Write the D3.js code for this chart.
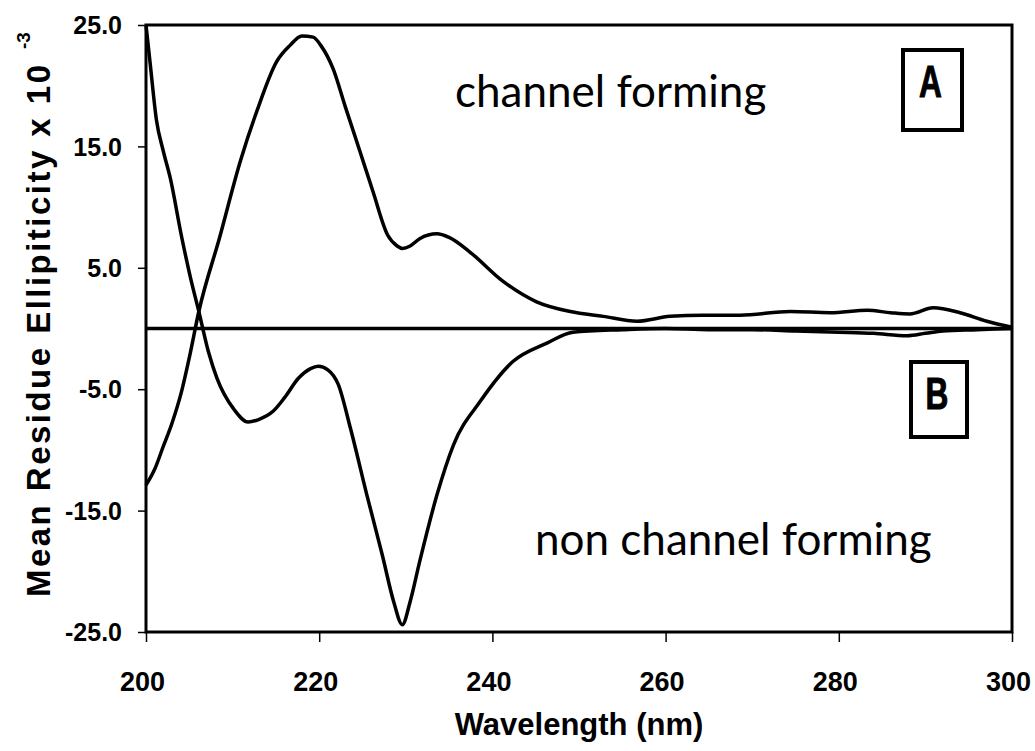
<!DOCTYPE html>
<html>
<head>
<meta charset="utf-8">
<script src="https://cdn.jsdelivr.net/npm/d3@7"></script>
<style>
  body { margin: 0; background: #fff; }
  svg { display: block; }
  .tick-label { font-family: "Liberation Sans", Arial, sans-serif; font-weight: bold; fill: #000; }
  .axis-title { font-family: "Liberation Sans", Arial, sans-serif; font-weight: bold; fill: #000; }
  .note { font-family: Lato, "Open Sans", sans-serif; fill: #000; }
</style>
</head>
<body>
<svg id="chart" width="1035" height="751"></svg>
<script>
// CD spectra
const xTicks = [200, 220, 240, 260, 280, 300];
const yTicks = [25, 15, 5, -5, -15, -25];

// A: channel forming
const wlA = [200, 201, 202, 203, 204.1, 205, 206.1, 208.5, 210.9, 212.8, 215.1, 216.6, 218, 219.3, 220.2,
  221.6, 223, 224.7, 226.2, 227.9, 229, 229.6, 230.5, 231.6, 233.6, 235, 237.4, 241.2, 245.1, 249,
  252.8, 256.7, 260.5, 264.3, 268.6, 274.4, 279, 283.3, 286, 288.2, 290.9, 294, 297.1, 300];
const valA = [-12.9, -11.6, -9.7, -7.8, -5.2, -2.4, 1.4, 7.5, 13.8, 17.9, 22.0, 23.3, 24.1, 24.0, 23.3,
  21.4, 18.3, 14.6, 11.3, 7.7, 6.8, 6.6, 6.8, 7.4, 7.8, 7.5, 6.3, 3.9, 2.2, 1.4,
  1.0, 0.6, 1.0, 1.1, 1.1, 1.4, 1.3, 1.5, 1.3, 1.2, 1.7, 1.3, 0.6, 0.1];

// B: non channel forming
const wlB = [200, 200.5, 201.2, 202, 202.8, 204.1, 205.1, 206.1, 207.2, 208.2, 210.1, 211.8, 213, 214.7,
  216, 217.6, 219, 219.9, 221, 222.2, 223.6, 225.5, 227.3, 228.6, 229.6, 230.5, 231.6, 233.6, 235.5,
  238.6, 242.4, 246.3, 249.3, 255, 260, 265, 270, 275, 280, 284, 287.9, 290, 292, 296, 300];
const valB = [25, 21.7, 17.2, 14.6, 12.4, 7.6, 4.3, 1.4, -1.9, -4.1, -6.6, -7.7, -7.5, -6.8,
  -5.7, -4.1, -3.3, -3.1, -3.4, -4.6, -8.2, -13.7, -18.7, -22.5, -24.4, -22.5, -19.2, -13.7, -9.6,
  -6.0, -2.7, -1.2, -0.3, -0.1, 0.0, -0.1, -0.1, -0.2, -0.3, -0.4, -0.6, -0.4, -0.2, -0.1, 0];

const margin = { left: 146, right: 1012, top: 25, bottom: 632 };

const svg = d3.select("#chart");

const x = d3.scaleLinear().domain([200, 300]).range([margin.left, margin.right]);
const y = d3.scaleLinear().domain([-25, 25]).range([margin.bottom, margin.top]);

// frame
svg.append("rect")
    .attr("x", margin.left)
    .attr("y", margin.top)
    .attr("width", margin.right - margin.left)
    .attr("height", margin.bottom - margin.top)
    .attr("fill", "none")
    .attr("stroke", "#000")
    .attr("stroke-width", 3);

// zero line
svg.append("line")
    .attr("x1", x(200)).attr("x2", x(300))
    .attr("y1", y(0)).attr("y2", y(0))
    .attr("stroke", "#000")
    .attr("stroke-width", 3.5);

// axes
const xAxis = svg.append("g")
    .attr("transform", `translate(0,${margin.bottom})`)
    .call(d3.axisBottom(x).tickValues(xTicks).tickSize(10).tickPadding(30).tickFormat(d => String(d)));

const yAxis = svg.append("g")
    .attr("transform", `translate(${margin.left},0)`)
    .call(d3.axisLeft(y).tickValues(yTicks).tickSize(8).tickPadding(16).tickFormat(d => d.toFixed(1)));

[xAxis, yAxis].forEach(g => {
    g.select(".domain").remove();
    g.selectAll(".tick line").attr("stroke", "#000").attr("stroke-width", 1.5);
    g.selectAll(".tick text").attr("class", "tick-label").attr("fill", "#000");
});
xAxis.selectAll(".tick text").style("font-size", "27px").attr("dx", -4);
yAxis.selectAll(".tick text").style("font-size", "25px").attr("dy", "0.35em");

// curves
const line = d3.line()
    .x(d => x(d[0]))
    .y(d => y(d[1]))
    .curve(d3.curveMonotoneX);

const series = [d3.zip(wlA, valA), d3.zip(wlB, valB)];

svg.selectAll("path.spectrum")
    .data(series)
    .join("path")
    .attr("class", "spectrum")
    .attr("d", line)
    .attr("fill", "none")
    .attr("stroke", "#000")
    .attr("stroke-width", 3.5)
    .attr("stroke-linejoin", "round");

// axis titles
svg.append("text")
    .attr("class", "axis-title")
    .attr("x", (margin.left + margin.right) / 2)
    .attr("y", 735)
    .attr("text-anchor", "middle")
    .style("font-size", "31px")
    .text("Wavelength (nm)");

const yTitle = svg.append("g").attr("transform", "translate(50,597) rotate(-90)");
yTitle.append("text")
    .attr("class", "axis-title")
    .attr("x", 0).attr("y", 0)
    .attr("textLength", 532)
    .attr("lengthAdjust", "spacing")
    .style("font-size", "33px")
    .text("Mean Residue Ellipiticity x 10");
yTitle.append("text")
    .attr("class", "axis-title")
    .attr("x", 548).attr("y", -20)
    .style("font-size", "19px")
    .text("-3");

// annotations
svg.append("text")
    .attr("class", "note")
    .attr("x", 455).attr("y", 107)
    .style("font-size", "44px")
    .text("channel forming");

svg.append("text")
    .attr("class", "note")
    .attr("x", 535).attr("y", 555)
    .style("font-size", "44px")
    .text("non channel forming");

// panel labels
const panels = [
    { label: "A", x0: 903, y0: 50, x1: 962, y1: 130 },
    { label: "B", x0: 911, y0: 362, x1: 967, y1: 437 }
];

const panelG = svg.selectAll("g.panel")
    .data(panels)
    .join("g")
    .attr("class", "panel");

panelG.append("rect")
    .attr("x", d => d.x0).attr("y", d => d.y0)
    .attr("width", d => d.x1 - d.x0).attr("height", d => d.y1 - d.y0)
    .attr("fill", "#fff")
    .attr("stroke", "#000")
    .attr("stroke-width", 4);

panelG.append("text")
    .attr("class", "axis-title")
    .attr("transform", d => `translate(${(d.x0 + d.x1) / 2 - 2},${d.y0 + 47}) scale(0.72,1)`)
    .attr("text-anchor", "middle")
    .style("font-size", "44px")
    .style("stroke", "#000")
    .style("stroke-width", 1)
    .text(d => d.label);
</script>
</body>
</html>
